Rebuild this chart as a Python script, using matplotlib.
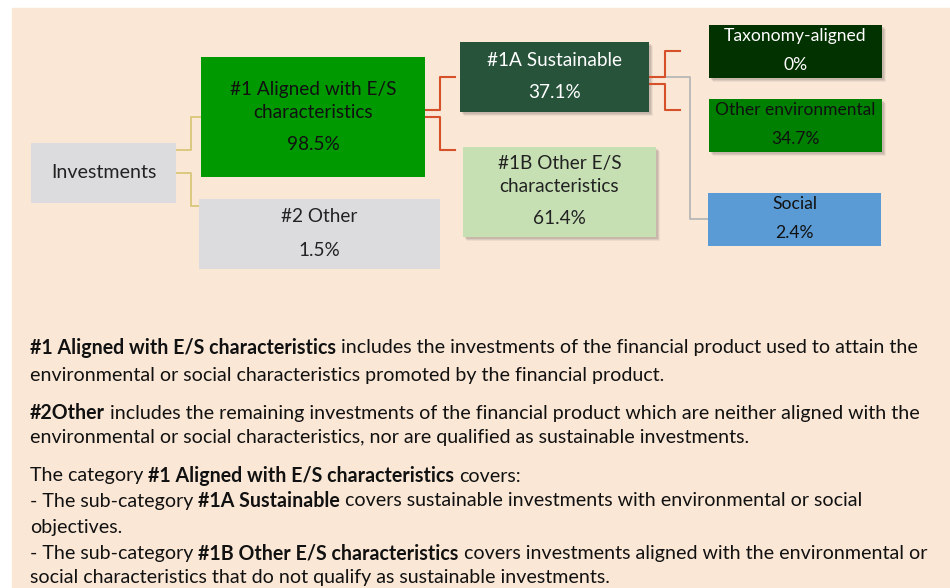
import matplotlib.pyplot as plt
from matplotlib.patches import Rectangle

# categories and shares (in %)
names = ['Investments', '#1 Aligned with E/S\ncharacteristics', '#2 Other',
         '#1A Sustainable', '#1B Other E/S\ncharacteristics',
         'Taxonomy-aligned', 'Other environmental', 'Social']
shares = [None, 98.5, 1.5, 37.1, 61.4, 0, 34.7, 2.4]

# explanatory text, (text, bold) pieces per line
notes = [
    [('#1 Aligned with E/S characteristics', True),
     ('includes the investments of the financial product used to attain the', False)],
    [('environmental or social characteristics promoted by the financial product.', False)],
    [('#2Other', True),
     ('includes the remaining investments of the financial product which are neither aligned with the', False)],
    [('environmental or social characteristics, nor are qualified as sustainable investments.', False)],
    [('The category', False), ('#1 Aligned with E/S characteristics', True), ('covers:', False)],
    [('- The sub-category', False), ('#1A Sustainable', True),
     ('covers sustainable investments with environmental or social', False)],
    [('objectives.', False)],
    [('- The sub-category', False), ('#1B Other E/S characteristics', True),
     ('covers investments aligned with the environmental or', False)],
    [('social characteristics that do not qualify as sustainable investments.', False)],
]

# layout: box (x0, y0, x1, y1) in pixels, fill, text colour, shadow
boxes = [
    ((31, 143, 176, 203), '#DCDCDE', '#222222', False),
    ((201, 57, 425, 177), '#009900', '#111111', False),
    ((199, 199, 440, 269), '#DCDCDE', '#222222', False),
    ((460, 42, 649, 112), '#27533A', 'white', True),
    ((463, 147, 656, 237), '#C6E0B4', '#222222', True),
    ((709, 25, 882, 78), '#033201', 'white', True),
    ((709, 99, 882, 152), '#008000', '#111111', True),
    ((708, 193, 881, 246), '#5B9BD5', '#111111', False),
]
name_y = [173, 90, 217, 60, 164, 36, 110, 204]
value_y = [None, 145, 250, 92, 218, 65, 139, 233]
fsize = [14.1, 13.7, 13.7, 13.7, 13.7, 12.6, 12.5, 12.6]

font = 'Lato'
bg = '#FAE7D6'

fig = plt.figure(figsize=(9.5, 5.88), dpi=100)
ax = fig.add_axes([0, 0, 1, 1])
ax.set_xlim(0, 950)
ax.set_ylim(588, 0)
ax.axis('off')

# background panel
ax.add_patch(Rectangle((12, 8), 950, 600, color=bg, zorder=0))

# connectors
yel = '#D8C67A'
red = '#D6502A'
gry = '#B8B8B8'
ax.plot([176, 191, 191, 201], [150, 150, 117, 117], color=yel, lw=1.3)
ax.plot([176, 191, 191, 199], [173, 173, 206, 206], color=yel, lw=1.3)
ax.plot([649, 690, 690, 708], [77, 77, 219, 219], color=gry, lw=1.3)
ax.plot([425, 440, 440, 455], [110, 110, 77, 77], color=red, lw=1.5)
ax.plot([425, 440, 440, 455], [117, 117, 150, 150], color=red, lw=1.5)
ax.plot([649, 665, 665, 680], [77, 77, 51, 51], color=red, lw=1.5)
ax.plot([649, 665, 665, 680], [84, 84, 110, 110], color=red, lw=1.5)

for i, ((x0, y0, x1, y1), fc, tc, sh) in enumerate(boxes):
    if sh:
        for k, a in [(4, 0.05), (3, 0.07), (2, 0.09)]:
            ax.add_patch(Rectangle((x0 + k, y0 + k), x1 - x0, y1 - y0,
                                   color='black', alpha=a, lw=0, zorder=1))
    ax.add_patch(Rectangle((x0, y0), x1 - x0, y1 - y0, color=fc, lw=0, zorder=2))
    cx = (x0 + x1) / 2
    lines = names[i].split('\n')
    for j, ln in enumerate(lines):
        ax.text(cx, name_y[i] + j * 23, ln, ha='center', va='center',
                color=tc, fontsize=fsize[i], family=font, zorder=3)
    if shares[i] is not None:
        val = f'{shares[i]:g}%'
        ax.text(cx, value_y[i], val, ha='center', va='center',
                color=tc, fontsize=fsize[i], family=font, zorder=3)

# explanatory text with bold runs
note_y = [348, 375, 413, 438, 476, 501, 527, 553, 578]
nsize = 14.1
renderer = fig.canvas.get_renderer()


def width(s, bold):
    t = ax.text(0, 0, s, fontsize=nsize, family=font,
                fontweight='bold' if bold else 'normal')
    w = t.get_window_extent(renderer).width
    t.remove()
    return w


space = {b: width('x x', b) - width('xx', b) for b in (True, False)}

for parts, y in zip(notes, note_y):
    x = 30
    for txt, b in parts:
        t = ax.text(x, y, txt, ha='left', va='center', fontsize=nsize, family=font,
                    fontweight='bold' if b else 'normal', color='#111111')
        x += t.get_window_extent(renderer).width + space[b]

fig.savefig('out.png', dpi=100, facecolor='white')
